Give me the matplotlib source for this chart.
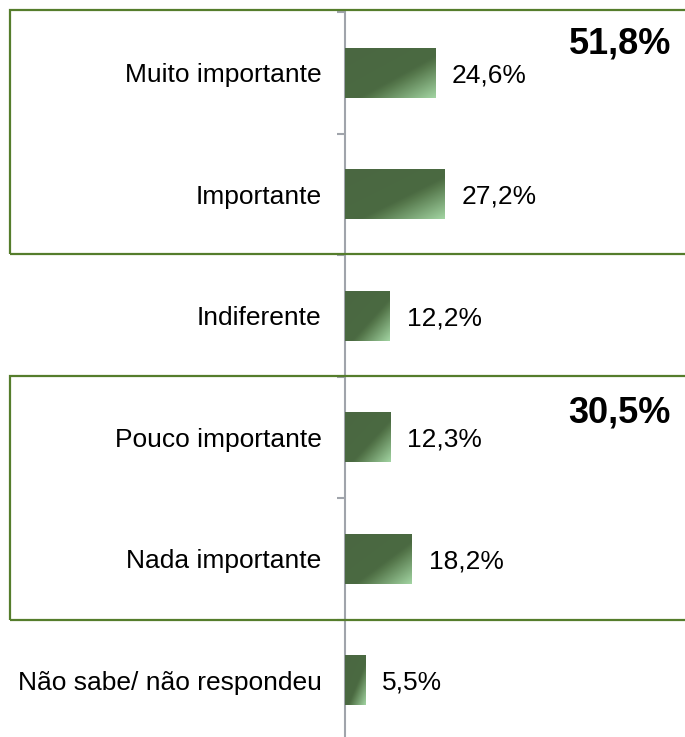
import numpy as np
import matplotlib
matplotlib.use('Agg')
import matplotlib.pyplot as plt
from matplotlib.colors import LinearSegmentedColormap
from matplotlib.patches import Rectangle

plt.rcParams['font.family'] = ['Liberation Sans', 'DejaVu Sans']

categories = ['Muito importante', 'Importante', 'Indiferente',
              'Pouco importante', 'Nada importante', 'Não sabe/ não respondeu']
values = [24.6, 27.2, 12.2, 12.3, 18.2, 5.5]
value_labels = ['24,6%', '27,2%', '12,2%', '12,3%', '18,2%', '5,5%']
group_labels = ['51,8%', '30,5%']

W, H = 685, 737
fig = plt.figure(figsize=(W / 100, H / 100), dpi=100)
ax = fig.add_axes([345 / W, -4 / H, 340 / W, 729 / H])

bar_cmap = LinearSegmentedColormap.from_list(
    'bar', [(0, '#4a6741'), (0.58, '#4b6a42'), (0.64, '#56784c'), (1, '#a2d4a2')])

y = np.arange(len(categories))
bar_h = 0.41
bars = ax.barh(y, values, height=bar_h, color='#4a6741', zorder=2)

uu, vv = np.meshgrid(np.linspace(0, 1, 100), np.linspace(0, 1, 100))
grad = (uu + vv) / 2
for b in bars:
    x0, y0 = b.get_x(), b.get_y()
    w, h = b.get_width(), b.get_height()
    im = ax.imshow(grad, cmap=bar_cmap, vmin=0, vmax=1, aspect='auto',
                   extent=(x0, x0 + w, y0 + h, y0), zorder=3,
                   interpolation='bilinear')
    im.set_clip_path(b)

for i, (v, lab) in enumerate(zip(values, value_labels)):
    ax.annotate(lab, (v, i), xytext=(12, 0), textcoords='offset points',
                ha='left', va='center_baseline', fontsize=19, color='black')

ax.set_xlim(0, 92.5)
ax.set_ylim(len(categories) - 0.5, -0.5)

ax.set_yticks(y)
ax.set_yticklabels(categories, fontsize=19)
ax.tick_params(axis='y', which='major', length=0, pad=17)
ax.set_yticks(np.arange(-0.5, len(categories) + 0.5, 1), minor=True)
ax.tick_params(axis='y', which='minor', length=6, width=1.5, color='#a0a4ab')
ax.set_xticks([])

for s in ['top', 'right', 'bottom']:
    ax.spines[s].set_visible(False)
ax.spines['left'].set_color('#a0a4ab')
ax.spines['left'].set_linewidth(1.5)

box_color = '#557d2c'
for top, bot in [(10, 254), (376, 620)]:
    fig.patches.append(Rectangle((10 / W, 1 - bot / H), 700 / W, (bot - top) / H,
                                 transform=fig.transFigure, fill=False,
                                 edgecolor=box_color, linewidth=1.6, zorder=5))

fig.text(671 / W, 1 - 44 / H, group_labels[0], ha='right', va='center',
         fontsize=26, fontweight='bold')
fig.text(671 / W, 1 - 413 / H, group_labels[1], ha='right', va='center',
         fontsize=26, fontweight='bold')

fig.savefig('out.png', dpi=100)
